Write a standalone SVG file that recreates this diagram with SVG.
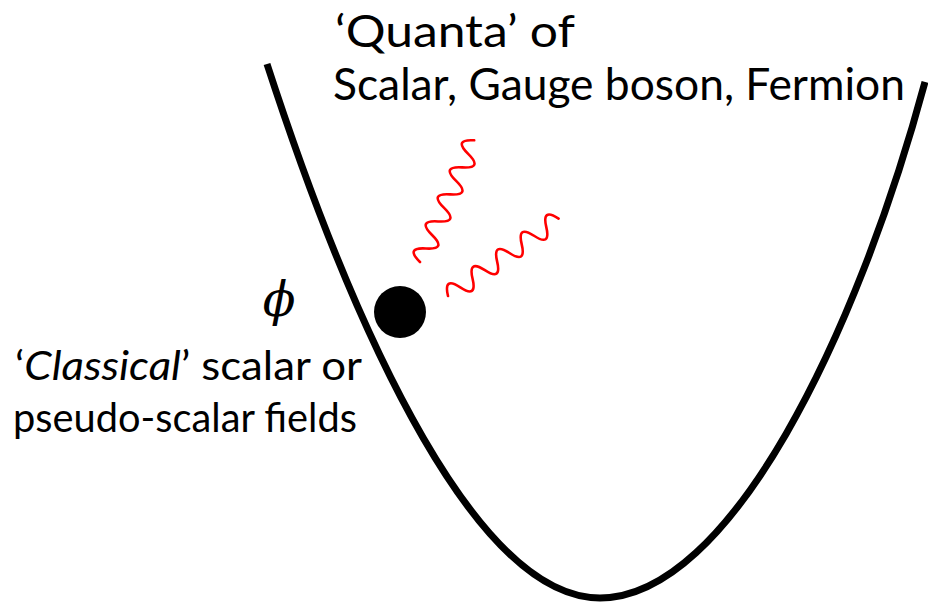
<svg xmlns="http://www.w3.org/2000/svg" width="928" height="604" viewBox="0 0 928 604">
<style>
.t{font-family:Lato,"Open Sans","Liberation Sans",sans-serif;fill:#000}
.wave{fill:none;stroke:#f00;stroke-width:2.6;stroke-linecap:round;stroke-linejoin:round}
.well{fill:none;stroke:#000;stroke-width:7;stroke-linecap:butt}
</style>
<rect width="928" height="604" fill="#fff"/>
<g id="potential">
<path class="well" d="M267,64 C359.7,349.3 480,598 600,598 C730,598 857.4,333.2 925,82"/>
</g>
<g id="ball">
<circle cx="400" cy="312" r="26" fill="#000"/>
<text x="279" y="316" text-anchor="middle" font-family="'DejaVu Serif','Liberation Serif',serif" font-style="italic" font-size="48">ϕ</text>
</g>
<g id="quanta">
<path class="wave" transform="translate(420,262) rotate(-66)" d="M0,0 q7.4,-20 14.8,0 t14.8,0 t14.8,0 t14.8,0 t14.8,0 t14.8,0 t14.8,0 t14.8,0 t14.8,0"/>
<path class="wave" transform="translate(448,296) rotate(-35)" d="M0,0 q7.5,-19 15,0 t15,0 t15,0 t15,0 t15,0 t15,0 t15,0 t15,0 t15,0"/>
</g>
<g id="label-quanta">
<text class="t" x="335" y="47" font-size="44" textLength="240" lengthAdjust="spacingAndGlyphs">‘Quanta’ of</text>
<text class="t" x="333" y="100" font-size="44" textLength="572" lengthAdjust="spacingAndGlyphs">Scalar, Gauge boson,  Fermion</text>
</g>
<g id="label-classical">
<text class="t" x="15" y="380" font-size="40" textLength="347" lengthAdjust="spacingAndGlyphs">‘<tspan font-style="italic">Classical</tspan>’ scalar or</text>
<text class="t" x="13" y="432" font-size="40" textLength="344" lengthAdjust="spacingAndGlyphs">pseudo-scalar fields</text>
</g>
</svg>
